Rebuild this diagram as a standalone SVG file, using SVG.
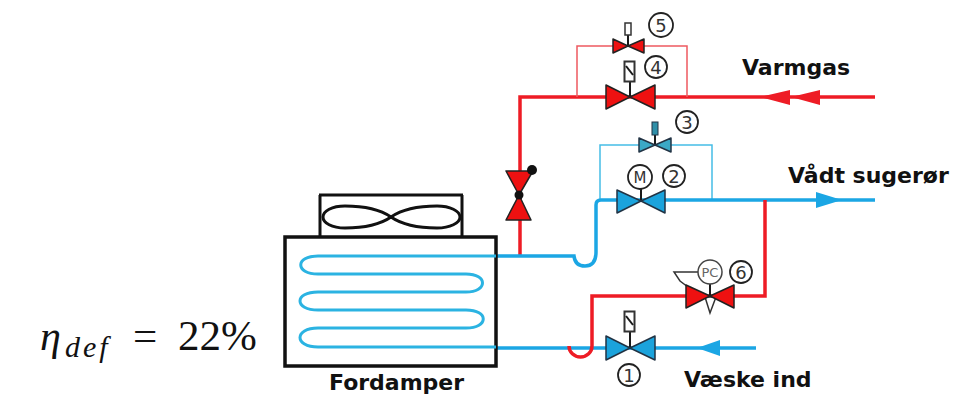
<svg xmlns="http://www.w3.org/2000/svg" width="973" height="396" viewBox="0 0 973 396">
<style>
.r{fill:none;stroke:#ee1c25;stroke-width:3.5}
.b{fill:none;stroke:#1ba6e4;stroke-width:3.5}
.rt{fill:none;stroke:#ee5a60;stroke-width:1.5}
.bt{fill:none;stroke:#45bde6;stroke-width:1.5}
.k{fill:none;stroke:#1a1a1a;stroke-width:2}
.vr{fill:#ee1111;stroke:#222;stroke-width:1.5;stroke-linejoin:round}
.vb{fill:#1ba3dc;stroke:#234;stroke-width:1.5;stroke-linejoin:round}
.vt{fill:#3ba9c6;stroke:#234;stroke-width:1.5;stroke-linejoin:round}
.act{fill:#fff;stroke:#333;stroke-width:2}
.c{fill:#fff;stroke:#222;stroke-width:1.8}
.n{font:18px "DejaVu Sans",sans-serif;fill:#333;text-anchor:middle}
.l{font:bold 22px "DejaVu Sans",sans-serif;fill:#111}
.f{font-family:"Liberation Serif",serif;fill:#111}
</style>
<g id="connectors">
<path class="b" d="M496 348H756"/>
<path class="r" d="M875 97H520V255"/>
<path class="rt" d="M577 97V46H687V97"/>
<path class="bt" d="M600 200V145H712V200"/>
<path class="b" d="M875 200H601Q596 200 596 205V252Q596 266 585 266Q575 266 574 256H496"/>
<path class="r" d="M765 200V296H592V346A11.500 11 0 0 1 569 346"/>
<path d="M760 97L790 90V105Z M791 97L820 90V105Z" fill="#ee1c25"/>
<path d="M842 200L816 192V208Z" fill="#1ba6e4"/>
<path d="M697 348L720 340V356Z" fill="#1ba6e4"/>
</g>
<g id="evaporator">
<rect x="285" y="237" width="211" height="129" fill="none" stroke="#111" stroke-width="3.5"/>
<path d="M320 237V195M462 237V195M319 195H463" fill="none" stroke="#111" stroke-width="3"/>
<path d="M391 217C378 208 362 206 345 206C332 206 323 211 323 217C323 223 332 228 345 228C362 228 378 226 391 217C404 208 420 206 437 206C450 206 460 211 460 217C460 223 450 228 437 228C420 228 404 226 391 217Z" fill="none" stroke="#111" stroke-width="3"/>
<path d="M496 256H318C295 256 295 274 318 274H466C488 274 488 292 466 292H318C294 292 294 310 318 310H466C489 310 489 328 466 328H318C294 328 294 347 318 347H496" fill="none" stroke="#2bb3e2" stroke-width="3"/>
<text class="l" x="329" y="390">Fordamper</text>
</g>
<g id="valve-1">
<path class="k" d="M630 348V331"/>
<rect class="act" x="624.500" y="311.500" width="10" height="20"/>
<path class="k" d="M626 316L633 325"/>
<path class="vb" d="M606 336L630 348L606 360ZM655 336L630 348L655 360Z"/>
<circle class="c" cx="629" cy="375" r="11"/><text class="n" x="629" y="381.500">1</text>
</g>
<g id="valve-2">
<path class="k" d="M641 201V189"/>
<path class="vb" d="M617 190L641 201L617 213ZM665 190L641 201L665 213Z"/>
<circle class="c" cx="640" cy="177" r="12"/><text class="n" x="640" y="182.500" style="font-size:15px">M</text>
<circle class="c" cx="674" cy="176" r="11"/><text class="n" x="674" y="182.500">2</text>
</g>
<g id="valve-3">
<path class="k" d="M655 145V135"/>
<rect x="652" y="122" width="6" height="13" fill="#2f8fa8" stroke="#234"/>
<path class="vt" d="M639 138L655 145L639 152ZM671 138L655 145L671 152Z"/>
<circle class="c" cx="687" cy="122" r="11"/><text class="n" x="687" y="128.500">3</text>
</g>
<g id="valve-4">
<path class="k" d="M630 97V81"/>
<rect class="act" x="624.500" y="61.500" width="10" height="20"/>
<path class="k" d="M626 66L633 75"/>
<path class="vr" d="M606 85L630 97L606 109ZM655 85L630 97L655 109Z"/>
<circle class="c" cx="656" cy="67" r="11"/><text class="n" x="656" y="73.500">4</text>
</g>
<g id="valve-5">
<path class="k" d="M628 46V35"/>
<rect class="act" x="625" y="23" width="6" height="12" style="stroke-width:1.500"/>
<path class="vr" d="M613 39L628 46L613 53ZM644 39L628 46L644 53Z"/>
<circle class="c" cx="661" cy="25" r="12"/><text class="n" x="661" y="31.500">5</text>
</g>
<g id="valve-6">
<path class="k" d="M710 296V284"/>
<path d="M698 272H674L680 281L692 290" fill="none" stroke="#333" stroke-width="1.500"/>
<path d="M705 297L716 297L710 313Z" fill="#fff" stroke="#333" stroke-width="1.500"/>
<path class="vr" d="M686 285L710 296L686 308ZM734 285L710 296L734 308Z"/>
<circle cx="710" cy="272" r="12" fill="#fff" stroke="#444" stroke-width="1.500"/><text class="n" x="710" y="277" style="font-size:13px;fill:#666">PC</text>
<circle class="c" cx="741" cy="272" r="11"/><text class="n" x="741" y="278.500">6</text>
</g>
<g id="valve-7">
<path class="vr" d="M506 171H533L519 195ZM506 220H531L519 195Z"/>
<circle cx="532" cy="170" r="5" fill="#111"/>
<circle cx="519" cy="195" r="4.500" fill="#111"/>
</g>
<g id="labels">
<text class="l" x="742" y="75">Varmgas</text>
<text class="l" x="788" y="183">Vådt sugerør</text>
<text class="l" x="684" y="387">Væske ind</text>
<text class="f" x="40" y="350" font-size="42" font-style="italic">η</text>
<text class="f" x="65" y="357" font-size="30" font-style="italic" letter-spacing="3">def</text>
<text class="f" x="133" y="350" font-size="43" word-spacing="10">= 22%</text>
</g>
</svg>
